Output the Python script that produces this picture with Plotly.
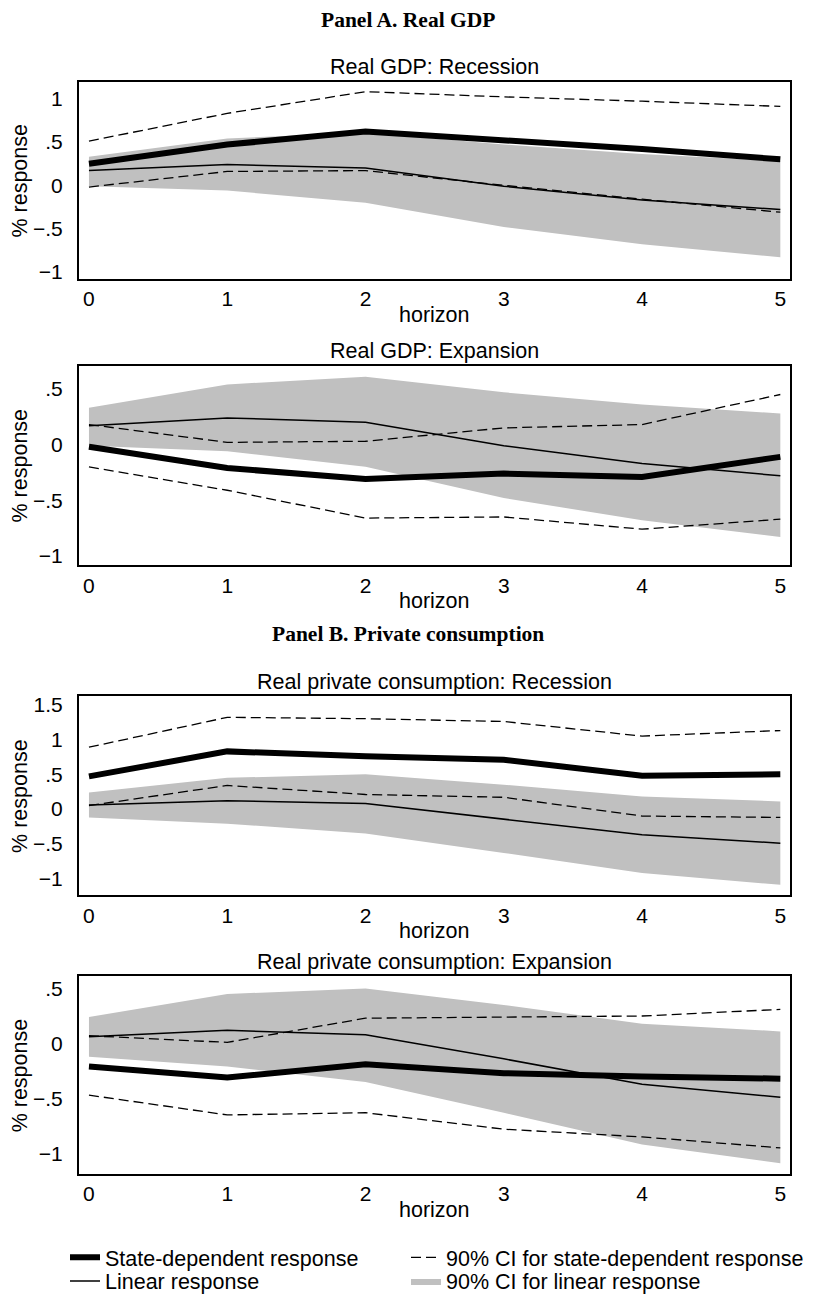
import plotly.graph_objects as go

W, H = 815, 1302

horizon = [0, 1, 2, 3, 4, 5]

# Real GDP
gdp_linear = [0.17, 0.24, 0.20, -0.01, -0.17, -0.28]
gdp_linear_lo = [-0.01, -0.06, -0.20, -0.48, -0.68, -0.83]
gdp_linear_hi = [0.33, 0.54, 0.61, 0.47, 0.36, 0.28]
gdp_rec = [0.25, 0.47, 0.62, 0.52, 0.42, 0.30]
gdp_rec_lo = [-0.02, 0.16, 0.17, 0.00, -0.16, -0.31]
gdp_rec_hi = [0.51, 0.83, 1.08, 1.02, 0.97, 0.91]
gdp_exp = [-0.02, -0.21, -0.31, -0.26, -0.29, -0.11]
gdp_exp_lo = [-0.20, -0.41, -0.66, -0.65, -0.76, -0.67]
gdp_exp_hi = [0.18, 0.02, 0.03, 0.15, 0.18, 0.45]

# Real private consumption
con_linear = [0.06, 0.12, 0.08, -0.14, -0.37, -0.49]
con_linear_lo = [-0.12, -0.21, -0.35, -0.63, -0.92, -1.09]
con_linear_hi = [0.24, 0.45, 0.50, 0.35, 0.18, 0.11]
con_rec = [0.47, 0.83, 0.76, 0.71, 0.48, 0.50]
con_rec_lo = [0.05, 0.34, 0.21, 0.17, -0.10, -0.12]
con_rec_hi = [0.89, 1.32, 1.30, 1.26, 1.05, 1.13]
con_exp = [-0.21, -0.31, -0.19, -0.27, -0.30, -0.32]
con_exp_lo = [-0.47, -0.65, -0.63, -0.78, -0.85, -0.95]
con_exp_hi = [0.07, 0.01, 0.23, 0.24, 0.25, 0.31]

ytick_vals = [-1, -0.5, 0, 0.5, 1, 1.5]
ytick_text = ["\u22121", "\u2212.5", "0", ".5", "1", "1.5"]

panels = [
    dict(title="Real GDP: Recession", box=(80, 279), yr=[-1.08, 1.19],
         lin=gdp_linear, lin_lo=gdp_linear_lo, lin_hi=gdp_linear_hi,
         sd=gdp_rec, sd_lo=gdp_rec_lo, sd_hi=gdp_rec_hi, nt=[-1, -0.5, 0, 0.5, 1]),
    dict(title="Real GDP: Expansion", box=(366.5, 568.5), yr=[-1.085, 0.71],
         lin=gdp_linear, lin_lo=gdp_linear_lo, lin_hi=gdp_linear_hi,
         sd=gdp_exp, sd_lo=gdp_exp_lo, sd_hi=gdp_exp_hi, nt=[-1, -0.5, 0, 0.5]),
    dict(title="Real private consumption: Recession", box=(701, 902), yr=[-1.24, 1.62],
         lin=con_linear, lin_lo=con_linear_lo, lin_hi=con_linear_hi,
         sd=con_rec, sd_lo=con_rec_lo, sd_hi=con_rec_hi, nt=[-1, -0.5, 0, 0.5, 1, 1.5]),
    dict(title="Real private consumption: Expansion", box=(984, 1184), yr=[-1.19, 0.61],
         lin=con_linear, lin_lo=con_linear_lo, lin_hi=con_linear_hi,
         sd=con_exp, sd_lo=con_exp_lo, sd_hi=con_exp_hi, nt=[-1, -0.5, 0, 0.5]),
]

FONT = "Liberation Sans, Arial, sans-serif"
SERIF = "Liberation Serif, Times New Roman, serif"
BAND = "#c0c0c0"
X0, X1 = 79, 790
FS = 21.5


def py(y):
    return 1 - y / H


fig = go.Figure()
annotations = []

for i, p in enumerate(panels):
    n = i + 1
    xa = "x" if n == 1 else f"x{n}"
    ya = "y" if n == 1 else f"y{n}"
    show = n == 1
    band_x = horizon + horizon[::-1]
    band_y = p["lin_hi"] + p["lin_lo"][::-1]
    fig.add_trace(go.Scatter(
        x=band_x, y=band_y, fill="toself", fillcolor=BAND, mode="lines",
        line=dict(width=0, color=BAND), name="90% CI for linear response",
        showlegend=show, legend="legend4", xaxis=xa, yaxis=ya,
        hoverinfo="skip"))
    fig.add_trace(go.Scatter(
        x=horizon, y=p["lin"], mode="lines", line=dict(color="black", width=1.5),
        name="Linear response", showlegend=show, legend="legend3",
        xaxis=xa, yaxis=ya))
    fig.add_trace(go.Scatter(
        x=horizon, y=p["sd_hi"], mode="lines",
        line=dict(color="black", width=1.3, dash="10px,5px"),
        name="90% CI for state-dependent response", showlegend=show,
        legend="legend2", xaxis=xa, yaxis=ya))
    fig.add_trace(go.Scatter(
        x=horizon, y=p["sd_lo"], mode="lines",
        line=dict(color="black", width=1.3, dash="10px,5px"),
        name="90% CI for state-dependent response", showlegend=False,
        xaxis=xa, yaxis=ya))
    fig.add_trace(go.Scatter(
        x=horizon, y=p["sd"], mode="lines", line=dict(color="black", width=6),
        name="State-dependent response", showlegend=show, legend="legend",
        xaxis=xa, yaxis=ya))

    top, bot = p["box"]
    axis_common = dict(showgrid=False, zeroline=False, showline=True, mirror=True,
                       linecolor="black", linewidth=2, ticks="", ticklen=0,
                       tickfont=dict(family=FONT, size=21, color="black"))
    fig.update_layout(**{
        ("xaxis" if n == 1 else f"xaxis{n}"): dict(
            domain=[X0 / W, X1 / W], range=[-0.072, 5.07], anchor=ya,
            tickvals=horizon, ticktext=[str(h) for h in horizon],
            ticklabelstandoff=0, **axis_common),
        ("yaxis" if n == 1 else f"yaxis{n}"): dict(
            domain=[py(bot), py(top)], range=p["yr"], anchor=xa,
            tickvals=p["nt"], ticktext=[ytick_text[ytick_vals.index(v)] for v in p["nt"]],
            ticklabelstandoff=10, **axis_common),
    })
    annotations.append(dict(text=p["title"], x=(X0 + X1) / 2 / W, y=py(top - 15),
                            xref="paper", yref="paper", showarrow=False,
                            xanchor="center", yanchor="middle",
                            font=dict(family=FONT, size=FS, color="black")))
    annotations.append(dict(text="horizon", x=(X0 + X1) / 2 / W, y=py(bot + 36),
                            xref="paper", yref="paper", showarrow=False,
                            xanchor="center", yanchor="middle",
                            font=dict(family=FONT, size=FS, color="black")))
    annotations.append(dict(text="% response", x=20 / W, y=py((top + bot) / 2),
                            xref="paper", yref="paper", showarrow=False, textangle=-90,
                            xanchor="center", yanchor="middle",
                            font=dict(family=FONT, size=FS, color="black")))

annotations.append(dict(text="<b>Panel A. Real GDP</b>", x=408 / W, y=py(17),
                        xref="paper", yref="paper", showarrow=False,
                        xanchor="center", yanchor="middle",
                        font=dict(family=SERIF, size=21.5, color="black")))
annotations.append(dict(text="<b>Panel B. Private consumption</b>", x=408 / W, y=py(638),
                        xref="paper", yref="paper", showarrow=False,
                        xanchor="center", yanchor="middle",
                        font=dict(family=SERIF, size=21.5, color="black")))

legend_common = dict(orientation="h", xanchor="left", yanchor="middle",
                     bgcolor="rgba(0,0,0,0)", borderwidth=0,
                     font=dict(family=FONT, size=FS, color="black"),
                     itemclick=False, itemdoubleclick=False)

fig.update_layout(
    width=W, height=H,
    margin=dict(l=0, r=0, t=0, b=0),
    paper_bgcolor="white", plot_bgcolor="white",
    showlegend=True,
    legend=dict(x=65 / W, y=py(1268), **legend_common),
    legend2=dict(x=406 / W, y=py(1268), **legend_common),
    legend3=dict(x=65 / W, y=py(1292), **legend_common),
    legend4=dict(x=406 / W, y=py(1292), **legend_common),
    annotations=annotations,
)

fig.write_html("out.html")
